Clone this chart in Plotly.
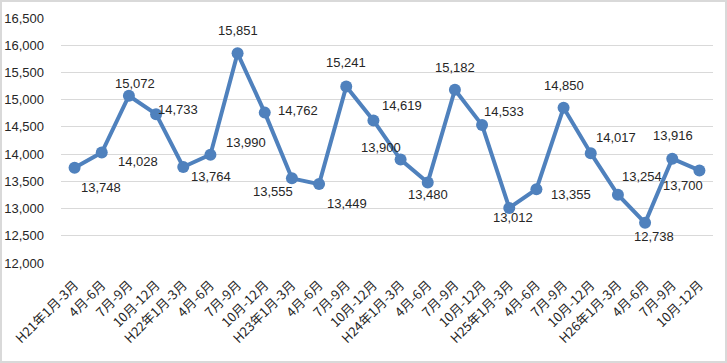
import plotly.graph_objects as go

categories = ["H21年1月-3月", "4月-6月", "7月-9月", "10月-12月",
              "H22年1月-3月", "4月-6月", "7月-9月", "10月-12月",
              "H23年1月-3月", "4月-6月", "7月-9月", "10月-12月",
              "H24年1月-3月", "4月-6月", "7月-9月", "10月-12月",
              "H25年1月-3月", "4月-6月", "7月-9月", "10月-12月",
              "H26年1月-3月", "4月-6月", "7月-9月", "10月-12月"]
values = [13748, 14028, 15072, 14733,
          13764, 13990, 15851, 14762,
          13555, 13449, 15241, 14619,
          13900, 13480, 15182, 14533,
          13012, 13355, 14850, 14017,
          13254, 12738, 13916, 13700]

# label offsets in pixels (dx right, dy down)
label_dx = [26, 36, 6, 22, 28, 36, 0, 33, -19, 28, 0, 29,
            -20, 0, 0, 22, 4, 35, 0, 25, 24, 9, 1, -16]
label_dy = [20, 9, -12, -5, 10, -12, -23, -2, 13, 19, -24, -15,
            -12, 12, -22, -14, 10, 5, -22, -16, -18, 14, -23, 15]

line_color = "#4f81bd"
text_color = "#262626"

xpos = list(range(len(categories)))

fig = go.Figure()
fig.add_trace(go.Scatter(
    x=xpos, y=values, mode="lines+markers",
    line=dict(color=line_color, width=4),
    marker=dict(color=line_color, size=12),
    hoverinfo="skip", showlegend=False,
))

for xp, v, dx, dy in zip(xpos, values, label_dx, label_dy):
    fig.add_annotation(x=xp, y=v, text=f"{v:,}", showarrow=False,
                       xshift=dx, yshift=-dy,
                       font=dict(family="Liberation Sans, Arial", size=13, color=text_color))

L, R, T, B = 61, 14, 18, 100
W, H = 727, 363
pw, ph = W - L - R, H - T - B
fig.add_shape(type="rect", xref="paper", yref="paper",
              x0=(1 - L) / pw, x1=(W - 1 - L) / pw,
              y0=-(H - 1 - (H - B)) / ph, y1=1 + (T - 1) / ph,
              line=dict(color="#d9d9d9", width=2), fillcolor="rgba(0,0,0,0)", layer="below")

fig.update_layout(
    width=W, height=H,
    margin=dict(l=L, r=R, t=T, b=B),
    paper_bgcolor="white", plot_bgcolor="white",
    xaxis=dict(range=[-0.5, len(categories) - 0.5], tickmode="array",
               tickvals=xpos, ticktext=categories,
               tickangle=-45, showgrid=False, ticks="", automargin=False,
               showline=False, zeroline=False, ticklabelstandoff=11,
               tickfont=dict(family="Noto Sans CJK JP", size=13, color=text_color)),
    yaxis=dict(range=[12000, 16500], dtick=500, tickformat=",d", automargin=False,
               showgrid=True, gridcolor="#d9d9d9", gridwidth=1, zeroline=False,
               showline=False, ticks="", ticklabelstandoff=16,
               tickfont=dict(family="Liberation Sans, Arial", size=13, color=text_color)),
)

fig.write_html("out.html", config={"displayModeBar": False},
               post_script="document.body.style.margin='0';document.body.style.overflow='hidden';")
